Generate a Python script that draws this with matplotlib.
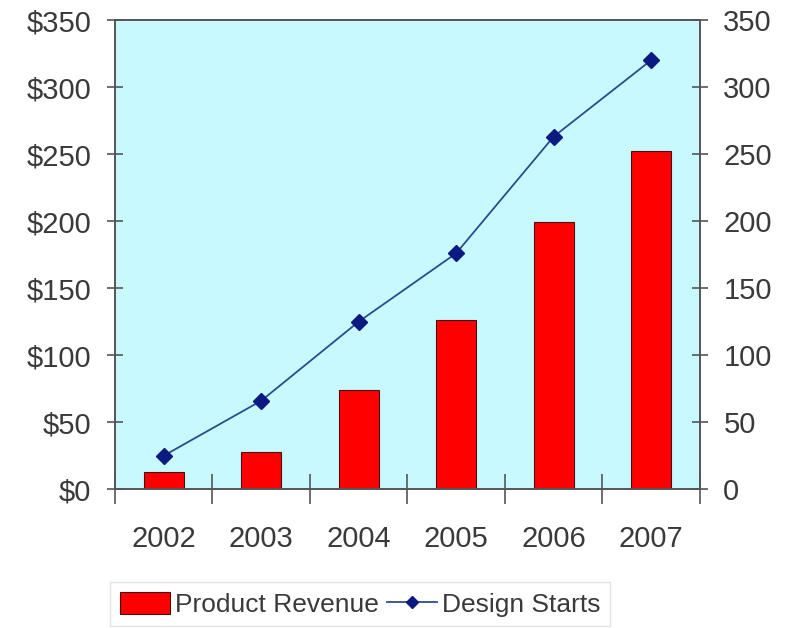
import numpy as np
import matplotlib.pyplot as plt
from matplotlib.lines import Line2D
from matplotlib.patches import Patch

plt.rcParams['font.family'] = ['Liberation Sans', 'DejaVu Sans']

years = ['2002', '2003', '2004', '2005', '2006', '2007']
revenue = [13, 28, 74, 126, 199, 252]        # product revenue, $M
design_starts = [25, 66, 125, 176, 263, 320]  # design starts

txt = '#3a3a3a'
axcol = '#555555'

fig = plt.figure(figsize=(7.88, 6.28), dpi=100)
ax = fig.add_axes([0.146, 0.221, 0.742, 0.747])
ax.set_facecolor('#C8F9FF')

x = np.arange(len(years))
ax.bar(x, revenue, width=0.41, color='#FF0000', edgecolor='#4a1010', linewidth=0.8, zorder=2)

ax2 = ax.twinx()
ax2.plot(x, design_starts, color='#2B4C8C', linewidth=1.3, marker='D', markersize=8,
         markerfacecolor='#0A1A80', markeredgecolor='#0A1A80', zorder=3)

for a in (ax, ax2):
    a.set_ylim(0, 350)
    a.set_xlim(-0.5, len(years) - 0.5)
    for s in a.spines.values():
        s.set_color(axcol)
        s.set_linewidth(1.2)

ax.set_yticks(range(0, 351, 50))
ax.set_yticklabels(['$%d' % v for v in range(0, 351, 50)])
ax2.set_yticks(range(0, 351, 50))
ax.tick_params(axis='y', direction='inout', length=12, width=1.2, color=axcol,
               labelsize=21, labelcolor=txt, pad=11)
ax2.tick_params(axis='y', direction='inout', length=12, width=1.2, color=axcol,
                labelsize=21, labelcolor=txt, pad=11)

# year labels sit between the category boundary ticks
ax.set_xticks(np.arange(-0.5, len(years), 1.0))
ax.set_xticklabels([])
ax.set_xticks(x, minor=True)
ax.set_xticklabels(years, minor=True)
ax.tick_params(axis='x', which='major', direction='inout', length=22, width=1.2, color=axcol)
ax.tick_params(axis='x', which='minor', length=0, labelsize=21, labelcolor=txt, pad=26)

handles = [Patch(facecolor='#FF0000', edgecolor='#4a1010', linewidth=0.8),
           Line2D([0], [0], color='#2B4C8C', linewidth=1.3, marker='D', markersize=6,
                  markerfacecolor='#0A1A80', markeredgecolor='#0A1A80')]
leg = fig.legend(handles, ['Product Revenue', 'Design Starts'], loc='center',
                 bbox_to_anchor=(0.457, 0.038), ncol=2, fontsize=19, frameon=True,
                 fancybox=False, edgecolor='#dddddd', handlelength=1.9, handleheight=0.9,
                 handletextpad=0.2, columnspacing=0.3, borderpad=0.35)
for t in leg.get_texts():
    t.set_color(txt)

fig.savefig('out.png', dpi=100)
